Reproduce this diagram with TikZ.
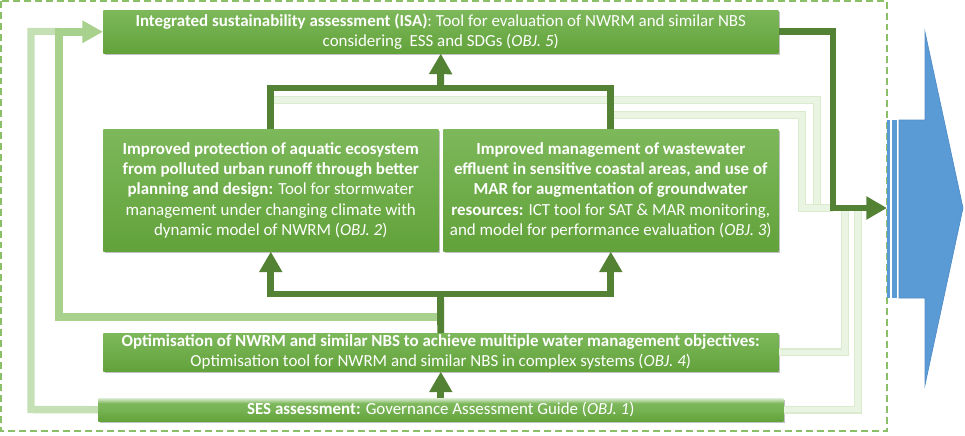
\documentclass[tikz,border=0pt]{standalone}
\usepackage{fontspec}
\setmainfont{Carlito}
\usetikzlibrary{arrows.meta,shadows,calc}
\definecolor{boxtop}{HTML}{7DB85B}
\definecolor{boxbot}{HTML}{62A23A}
\definecolor{dkgreen}{HTML}{548235}
\definecolor{midgreen}{HTML}{A9D18E}
\definecolor{ltgreen}{HTML}{C5E0B4}
\definecolor{pale}{HTML}{EAF4E3}
\definecolor{paleedge}{HTML}{DAEBCE}
\definecolor{dashgreen}{HTML}{8CC068}
\definecolor{blueA}{HTML}{5B9BD5}
\definecolor{blueE}{HTML}{4F8CC6}
\pgfdeclareverticalshading{sesshade}{100bp}{color(0bp)=(boxbot); color(25bp)=(boxbot); color(52bp)=(boxtop!80!boxbot); color(64bp)=(boxtop); color(75bp)=(boxtop!30!white); color(100bp)=(boxtop!30!white)}
\begin{document}
\begin{tikzpicture}[x=0.75pt,y=-0.75pt,
  box/.style={draw=none, top color=boxtop, bottom color=boxbot, text=white,
    align=center, inner sep=0pt, anchor=north west,
    font=\fontsize{12.7pt}{15.2pt}\selectfont,
    drop shadow={shadow xshift=1.3pt, shadow yshift=-1.3pt, opacity=0.35, fill=black!70}},
  sesbox/.style={box, shading=sesshade},
  darkline/.style={draw=dkgreen, line width=5.2pt},
  darkarrow/.style={darkline, -{Triangle[width=16.5pt,length=15.5pt]}},
  midline/.style={draw=midgreen, line width=5.6pt},
  ltline/.style={draw=ltgreen, line width=5.6pt},
  paleline/.style={draw=paleedge, line width=0.9pt, double=pale, double distance=3.9pt},
  frame/.style={draw=dashgreen, line width=1.1pt, dash pattern=on 5.2pt off 3pt},
  bluefill/.style={fill=blueA, draw=blueE, line width=0.5pt}
]
\useasboundingbox (0,0) rectangle (965,436);

% dashed frame
\draw[frame] (1,1) rectangle (887,431);

% boxes
\node[box, minimum width=506.25pt, minimum height=32.25pt] (isa) at (103,10)
  {\textbf{Integrated sustainability assessment (ISA)}: Tool for evaluation of NWRM and similar NBS\\
   considering~ ESS and SDGs (\textit{OBJ. 5})};
\node[box, minimum width=251.25pt, minimum height=91.5pt] (b2) at (103,129)
  {\textbf{Improved protection of aquatic ecosystem}\\
   \textbf{from polluted urban runoff through better}\\
   \textbf{planning and design:} Tool for stormwater\\
   management under changing climate with\\
   dynamic model of NWRM (\textit{OBJ. 2})};
\node[box, minimum width=251.25pt, minimum height=91.5pt] (b3) at (443,129)
  {\textbf{Improved management of wastewater}\\
   \textbf{effluent in sensitive coastal areas, and use of}\\
   \textbf{MAR for augmentation of groundwater}\\
   \textbf{resources:} ICT tool for SAT \& MAR monitoring,\\
   and model for performance evaluation (\textit{OBJ. 3})};
\node[box, minimum width=506.25pt, minimum height=28.5pt] (opt) at (103,333)
  {\textbf{Optimisation of NWRM and similar NBS to achieve multiple water management objectives:}\\
   Optimisation tool for NWRM and similar NBS in complex systems (\textit{OBJ. 4})};
\node[sesbox, minimum width=513.75pt, minimum height=17.25pt] (ses) at (98,398)
  {\textbf{SES assessment:} Governance Assessment Guide (\textit{OBJ. 1})};

% coordinates
\coordinate (jt) at (440.5,88);
\coordinate (jb) at (440.5,294);
\coordinate (mfb) at (440.5,317);
\coordinate (L1) at (59,317);
\coordinate (L2) at (31,409.5);
\coordinate (L3) at (59,31.5);
\coordinate (r1) at (833,208);
\coordinate (inlet) at (887,208);
\coordinate (p1s) at (270.5,100);
\coordinate (p1c) at (817,208);
\coordinate (p2s) at (610.5,115);
\coordinate (p2c) at (802,208);
\coordinate (p3c) at (845,208);
\coordinate (p4c) at (858,208);

% pale feed-forward lines (right)
\draw[paleline] (p1s) -| (p1c) -- (r1);
\draw[paleline] (p2s) -| (p2c) -- (r1);
\draw[paleline] (opt.east) -| (p3c);
\draw[paleline] (ses.east) -| (p4c);

% light feedback lines (left)
\draw[ltline] (ses.west) -- (L2) |- (L3);
\draw[midline, -{Triangle[width=16pt,length=15.5pt]}] (mfb) -- (L1) |- (isa.west);

% dark connectors
\draw[darkline] (b2.north) |- (jt) -| (b3.north);
\draw[darkarrow] (jt) -- (isa.south);
\draw[darkline] (opt.north) -- (jb);
\draw[darkarrow] (jb) -| (b2.south);
\draw[darkarrow] (jb) -| (b3.south);
\draw[darkarrow] (ses.north) -- (opt.south);
\draw[darkarrow] (isa.east) -| (r1) -- (inlet);

% blue arrow
\fill[blueA] (887,120) rectangle (890,298);
\fill[blueA] (892,120) rectangle (897,298);
\draw[bluefill] (899,120) -- (925,120) -- (925,32) -- (963,208) -- (925,385) -- (925,298) -- (899,298) -- cycle;
\end{tikzpicture}
\end{document}
